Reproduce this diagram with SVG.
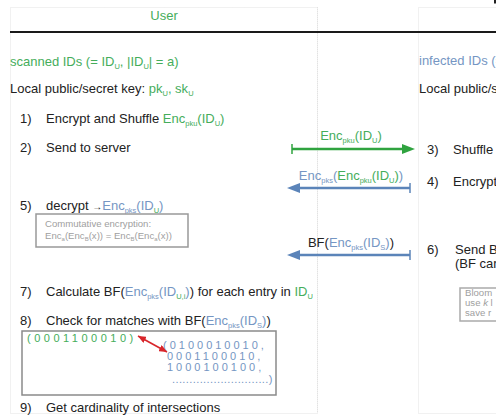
<svg xmlns="http://www.w3.org/2000/svg" width="496" height="415" viewBox="0 0 496 415">
<style>
text{font-family:"Liberation Sans",Arial,sans-serif;font-size:13px;fill:#222}
.g{fill:#45ad5b}
.b{fill:#7596c3}
.k{fill:#222}
.sub{font-size:7.5px}
.note{font-size:9.6px;fill:#a0a0a0}
.nsub{font-size:6px}
.bits{font-size:11px;letter-spacing:3.5px}
.bl{letter-spacing:3px}
.frame{fill:none;stroke:#e2e2e2;stroke-width:1;stroke-dasharray:1 1}
.box{fill:#fff;stroke:#8a8a8a;stroke-width:1.5}
</style>
<defs>
<marker id="hg" markerUnits="userSpaceOnUse" markerWidth="14" markerHeight="11" refX="0" refY="5" orient="auto"><path d="M0,0 L13,5 L0,10 z" fill="#2fa33f"/></marker>
<marker id="hb" markerUnits="userSpaceOnUse" markerWidth="14" markerHeight="11" refX="0" refY="5" orient="auto"><path d="M0,0 L13,5 L0,10 z" fill="#5b84b9"/></marker>
<marker id="hr" markerUnits="userSpaceOnUse" markerWidth="9" markerHeight="7" refX="8" refY="3.5" orient="auto-start-reverse"><path d="M0,0 L8,3.5 L0,7 z" fill="#d8262b"/></marker>
</defs>

<g id="frames">
<rect class="frame" x="10.5" y="7.5" width="307" height="406"/>
<rect class="frame" x="418.5" y="7.5" width="90" height="406"/>
<line class="frame" x1="317.5" y1="7" x2="317.5" y2="413"/>
<line x1="10" y1="32" x2="496" y2="32" stroke="#1a1a1a" stroke-width="2.2"/>
<rect x="494" y="0" width="2" height="3.5" fill="#222"/>
</g>

<g id="user">
<text x="164" y="20" text-anchor="middle" class="g">User</text>
<text x="10" y="66" class="g">scanned IDs (= ID<tspan class="sub" dy="3">U</tspan><tspan dy="-3">, |ID</tspan><tspan class="sub" dy="3">U</tspan><tspan dy="-3">| = a)</tspan></text>
<text x="10" y="93">Local public/secret key: <tspan class="g">pk</tspan><tspan class="g sub" dy="3">U</tspan><tspan class="g" dy="-3">, sk</tspan><tspan class="g sub" dy="3">U</tspan></text>
</g>

<g id="step1">
<text x="20" y="123">1)</text>
<text x="46" y="123">Encrypt and Shuffle <tspan class="g">Enc</tspan><tspan class="g sub" dy="3">pku</tspan><tspan class="g" dy="-3">(ID</tspan><tspan class="g sub" dy="3">U</tspan><tspan class="g" dy="-3">)</tspan></text>
</g>
<g id="step2">
<text x="20" y="152">2)</text>
<text x="46" y="152">Send to server</text>
</g>
<g id="step5">
<text x="20" y="210">5)</text>
<text x="46" y="210">decrypt <tspan style="font-size:10px">→</tspan><tspan class="b">Enc</tspan><tspan class="b sub" dy="3">pks</tspan><tspan class="b" dy="-3">(ID</tspan><tspan class="g sub" dy="3">U</tspan><tspan class="b" dy="-3">)</tspan></text>
</g>
<g id="note-commutative">
<rect class="box" x="36" y="214" width="152" height="33" style="stroke:#999"/>
<text x="45" y="227" class="note">Commutative encryption:</text>
<text x="45" y="239" class="note">Enc<tspan class="nsub" dy="2">a</tspan><tspan dy="-2">(Enc</tspan><tspan class="nsub" dy="2">B</tspan><tspan dy="-2">(x)) = Enc</tspan><tspan class="nsub" dy="2">B</tspan><tspan dy="-2">(Enc</tspan><tspan class="nsub" dy="2">a</tspan><tspan dy="-2">(x))</tspan></text>
</g>
<g id="step7">
<text x="20" y="296">7)</text>
<text x="46" y="296">Calculate BF(<tspan class="b">Enc</tspan><tspan class="b sub" dy="3">pks</tspan><tspan class="b" dy="-3">(ID</tspan><tspan class="g sub" dy="3">U,i</tspan><tspan class="b" dy="-3">)</tspan>) for each entry in <tspan class="g">ID</tspan><tspan class="g sub" dy="3">U</tspan></text>
</g>
<g id="step8">
<text x="20" y="325">8)</text>
<text x="46" y="325">Check for matches with BF(<tspan class="b">Enc</tspan><tspan class="b sub" dy="3">pks</tspan><tspan class="b" dy="-3">(ID</tspan><tspan class="b sub" dy="3">S</tspan><tspan class="b" dy="-3">)</tspan>)</text>
</g>
<g id="bits-box">
<rect class="box" x="22" y="331" width="254" height="64"/>
<text x="27" y="342" class="bits g">(0001100010)</text>
<text x="163" y="349" class="bits bl b">(0100010010,</text>
<text x="167" y="360" class="bits bl b">0001100010,</text>
<text x="167" y="371" class="bits bl b">1000100100,</text>
<text x="172" y="383" class="b" style="font-size:11px;letter-spacing:0.4px">............................)</text>
</g>
<g id="step9">
<text x="20" y="412">9)</text>
<text x="46" y="412">Get cardinality of intersections</text>
</g>

<g id="server">
<text x="419" y="65" class="b">infected IDs (=</text>
<text x="419" y="93">Local public/s</text>
</g>
<g id="step3">
<text x="427" y="154">3)</text>
<text x="453" y="154">Shuffle</text>
</g>
<g id="step4">
<text x="427" y="186">4)</text>
<text x="453" y="186">Encrypt</text>
</g>
<g id="step6">
<text x="427" y="254">6)</text>
<text x="455" y="254">Send B</text>
<text x="455" y="268">(BF car</text>
</g>
<g id="note-bloom">
<rect class="box" x="460" y="288" width="50" height="33" style="stroke:#aaa"/>
<text x="465" y="296" class="note">Bloom</text>
<text x="465" y="306" class="note">use <tspan font-style="italic">k</tspan> l</text>
<text x="465" y="316" class="note">save r</text>
</g>

<g id="connectors">
<line x1="292" y1="149" x2="402" y2="149" stroke="#2fa33f" stroke-width="2.5" marker-end="url(#hg)"/>
<line x1="292" y1="144" x2="292" y2="154" stroke="#2fa33f" stroke-width="1.5"/>
<text x="351" y="139.5" text-anchor="middle" class="g">Enc<tspan class="sub" dy="3">pku</tspan><tspan dy="-3">(ID</tspan><tspan class="sub" dy="3">U</tspan><tspan dy="-3">)</tspan></text>

<line x1="410" y1="188" x2="300" y2="188" stroke="#5b84b9" stroke-width="2.5" marker-end="url(#hb)"/>
<line x1="410" y1="183" x2="410" y2="193" stroke="#5b84b9" stroke-width="1.5"/>
<text x="351" y="180" text-anchor="middle" class="b">Enc<tspan class="sub" dy="3">pks</tspan><tspan dy="-3">(</tspan><tspan class="g">Enc</tspan><tspan class="g sub" dy="3">pku</tspan><tspan class="g" dy="-3">(ID</tspan><tspan class="g sub" dy="3">U</tspan><tspan class="g" dy="-3">)</tspan>)</text>

<line x1="410" y1="255" x2="300" y2="255" stroke="#5b84b9" stroke-width="2.5" marker-end="url(#hb)"/>
<line x1="410" y1="250" x2="410" y2="260" stroke="#5b84b9" stroke-width="1.5"/>
<text x="351" y="247" text-anchor="middle">BF(<tspan class="b">Enc</tspan><tspan class="b sub" dy="3">pks</tspan><tspan class="b" dy="-3">(ID</tspan><tspan class="b sub" dy="3">S</tspan><tspan class="b" dy="-3">)</tspan>)</text>

<line x1="138" y1="336" x2="167" y2="352" stroke="#d8262b" stroke-width="1.6" marker-start="url(#hr)" marker-end="url(#hr)"/>
</g>
</svg>
